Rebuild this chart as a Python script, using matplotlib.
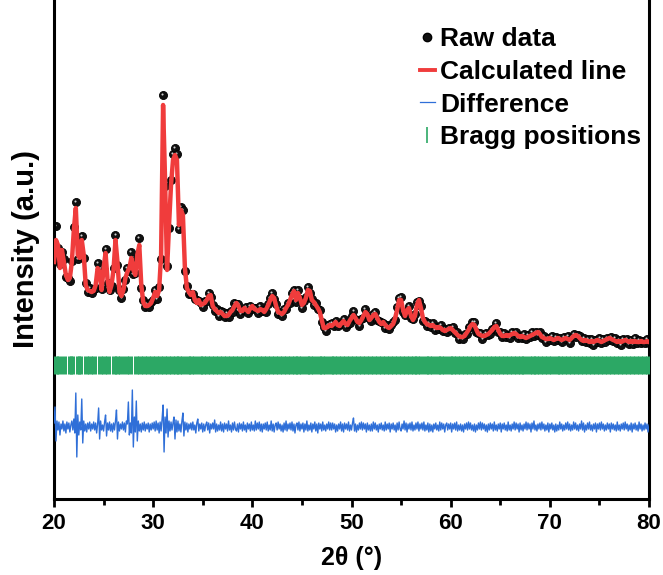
import numpy as np
import matplotlib
matplotlib.use("Agg")
import matplotlib.pyplot as plt
from matplotlib.lines import Line2D
from matplotlib.transforms import offset_copy

# profile grid (degrees): calc / obs every 0.2, difference every 0.1
two_theta_start = 20.0
profile_step = 0.2
diff_step = 0.1

# Calculated profile, one row per degree (20.0, 20.2, ... 20.8)
calc = [
    238, 260, 255, 232, 250,
    238, 225, 220, 222, 238,
    270, 292, 245, 242, 260,
    245, 215, 210, 209, 208,
    209, 215, 232, 228, 210,
    232, 247, 220, 208, 215,
    230, 260, 238, 208, 204,
    210, 222, 228, 232, 242,
    230, 225, 245, 255, 215,
    198, 194, 194, 195, 197,
    202, 208, 204, 210, 245,
    395, 320, 230, 275, 315,
    340, 345, 340, 275, 290,
    285, 232, 212, 208, 205,
    208, 200, 197, 200, 195,
    196, 197, 200, 204, 205,
    194, 191, 189, 187, 188,
    186, 184, 184, 185, 188,
    190, 194, 197, 194, 189,
    189, 192, 190, 188, 192,
    194, 191, 190, 189, 191,
    190, 188, 191, 195, 200,
    204, 202, 194, 188, 187,
    186, 188, 192, 195, 200,
    205, 209, 200, 207, 202,
    195, 197, 202, 210, 209,
    200, 198, 195, 192, 188,
    180, 172, 172, 173, 175,
    174, 176, 178, 175, 174,
    177, 179, 176, 175, 179,
    182, 185, 182, 178, 177,
    180, 184, 188, 186, 180,
    182, 185, 186, 182, 178,
    176, 178, 175, 173, 172,
    174, 176, 182, 190, 200,
    200, 190, 184, 190, 192,
    184, 180, 184, 195, 200,
    192, 182, 178, 176, 175,
    174, 175, 173, 172, 173,
    172, 170, 169, 170, 171,
    172, 170, 168, 166, 164,
    163, 163, 164, 167, 170,
    174, 176, 175, 170, 166,
    165, 164, 164, 165, 166,
    168, 170, 173, 174, 170,
    166, 164, 164, 165, 164,
    165, 166, 167, 166, 164,
    163, 164, 163, 162, 163,
    164, 165, 166, 167, 168,
    166, 163, 162, 161, 161,
    162, 161, 160, 161, 162,
    161, 160, 161, 162, 161,
    160, 162, 164, 165, 164,
    162, 160, 159, 160, 159,
    158, 159, 158, 159, 160,
    159, 158, 159, 160, 161,
    162, 161, 160, 159, 158,
    159, 158, 159, 160, 159,
    158, 159, 158, 159, 158,
    158, 159, 158, 158, 159,
    158,
]

# Raw data minus calculated line, same 0.2 grid
obs_dev = [
    2, 14, -3, 4, -2,
    3, -2, 2, -3, 1,
    3, 6, -4, 2, 4,
    -3, 2, -2, 3, -1,
    2, -3, 5, -2, 1,
    -2, 4, -3, 2, -1,
    2, 5, -3, 2, -2,
    1, -2, 4, -3, 6,
    -4, 2, -3, 7, -3,
    2, -1, 2, -2, 1,
    -2, 2, -3, 3, -4,
    10, -6, 4, -3, 5,
    6, 7, 6, -4, 3,
    5, -3, 2, -2, 1,
    -2, 1, 3, -1, 2,
    -3, 2, -1, 3, -2,
    1, -2, 2, -3, 1,
    2, -1, 3, -2, 1,
    -2, 3, -1, 2, -3,
    1, -2, 3, -1, 2,
    -3, 1, 2, -2, 3,
    -1, 2, -3, 1, 2,
    3, -1, 2, -2, 1,
    -2, 3, -1, 2, -3,
    2, 1, -2, 3, -1,
    -3, 2, 1, 3, -2,
    1, -3, 2, -1, 2,
    -2, 1, -3, 2, 1,
    3, -2, 1, -1, 2,
    -1, 2, -3, 1, -2,
    2, 4, -1, 2, -3,
    1, -2, 3, -1, 2,
    -3, 1, 2, -2, 1,
    2, -1, -3, 2, -1,
    1, 2, -2, 3, 2,
    3, -2, 1, -1, 2,
    -2, 1, 2, 3, -1,
    2, -3, 1, -2, 2,
    -1, 2, -3, 1, -2,
    3, -1, 2, -2, 1,
    -2, 3, -1, 2, -3,
    1, -2, 2, -1, 3,
    -1, 2, 3, -2, 1,
    2, -3, 1, 2, -1,
    -2, 1, -1, 3, -2,
    2, -1, 3, -2, 1,
    -3, 2, -1, 2, -2,
    1, -2, 3, -1, 2,
    -1, 3, -2, 1, -3,
    2, -1, 2, -3, 1,
    -2, 3, -1, 2, -2,
    1, -2, 2, -1, 3,
    -3, 1, 2, -2, 1,
    2, -1, 3, -2, 2,
    -1, 2, -3, 1, -2,
    3, -1, 2, -2, 1,
    -2, 2, -1, 3, -1,
    1, -3, 2, -1, 2,
    -2, 1, -2, 3, -1,
    2, -2, 1, -1, 2,
    -1,
]

# Difference curve, one row per degree (20.0 ... 20.9)
diff = [
    4, 20, -14, 6, -3, 5, -8, 3, -2, 6,
    -4, 3, -6, 5, -2, 4, -5, 2, 6, -3,
    8, -6, 34, -30, 12, -8, 5, -3, 28, -16,
    6, -4, 3, -5, 4, -2, 5, -4, 3, -2,
    5, -3, 4, -6, 3, 19, -12, 6, -3, 2,
    -4, 5, 12, -9, 4, -3, 5, -4, 3, -5,
    4, -3, 6, 17, -12, 5, -4, 3, -2, 5,
    -3, 4, -5, 6, 3, 25, -8, 4, -6, 37,
    -20, 10, -5, 26, -14, 6, -4, 3, -5, 4,
    -3, 5, -4, 3, -2, 4, -5, 3, -3, 4,
    -2, 5, -4, 6, -3, 4, -6, 5, -4, 8,
    22, -25, 10, -6, 18, -10, 6, -4, 5, -3,
    4, 10, -12, 7, -5, 6, -4, 3, -5, 6,
    14, -9, 5, -3, 4, -5, 3, -2, 4, -3,
    5, -3, 2, -6, 4, 8, -4, 3, -2, 4,
    -5, 3, -4, 2, 5, -3, 4, -6, 3, -2,
    4, -2, 7, -5, 3, -4, 2, -3, 5, -4,
    3, -5, 4, -2, 3, -4, 6, -3, 2, -5,
    4, -3, 5, -2, -4, 3, -5, 4, -2, 3,
    -4, 5, -3, 2, -5, 4, -2, 3, -4, 5,
    -3, 2, -4, 6, -3, 4, -2, 5, -4, 3,
    -5, 3, -2, 4, -3, 5, -4, 2, -3, 6,
    -4, 3, -5, 2, 4, -3, 5, -2, 3, -4,
    2, -5, 4, -3, 6, -4, 3, -2, 4, -3,
    5, -4, 3, -6, 2, 4, -3, 5, -4, 3,
    -2, 4, -5, 3, -3, 6, -4, 2, -3, 4,
    -5, 3, -2, 5, -4, 3, -6, 4, -2, 3,
    -4, 5, -3, 2, -4, 3, -2, 5, -3, 4,
    -3, 4, -2, 3, -5, 2, -4, 3, -2, 5,
    -4, 3, -5, 4, -2, 3, -3, 5, -4, 2,
    -3, 4, 9, -4, 3, -5, 2, -3, 4, -2,
    5, -3, 4, -2, 3, -5, 4, -3, 2, -4,
    3, -4, 5, -2, 4, -3, 2, -5, 3, -2,
    4, -3, 2, -4, 5, -3, 3, -2, 4, -5,
    3, -2, 4, -3, 2, -5, 4, -3, 5, -2,
    -4, 3, -2, 6, -3, 4, -5, 3, -2, 4,
    -3, 5, -4, 2, -3, 4, -2, 5, -4, 3,
    -2, 4, -3, 5, -4, 2, -3, 4, -5, 3,
    -4, 2, -5, 3, -2, 4, -3, 2, -4, 5,
    -3, 4, -2, 3, -5, 2, 4, -3, 3, -2,
    4, -5, 3, -2, 4, -3, 5, -4, 2, -3,
    3, -4, 2, -5, 3, -2, 4, -3, 5, -2,
    4, -3, 2, -4, 3, -5, 2, -3, 4, -2,
    5, -3, 4, -2, 3, -4, 2, -5, 3, -3,
    4, -2, 3, -4, 5, -3, 2, -4, 3, -2,
    4, -5, 3, -2, 4, -3, 2, -4, 5, -3,
    2, -4, 3, -2, 5, -3, 4, -2, 3, -5,
    4, -3, 2, -4, 3, -2, 5, -3, 4, -2,
    3, -5, 4, -2, 6, -3, 2, -4, 3, -2,
    4, -3, 5, -2, 3, -4, 2, -3, 4, -5,
    3, -2, 4, -3, 2, -5, 3, -4, 2, -3,
    5, -2, 3, -4, 2, -3, 4, -2, 5, -3,
    3, -4, 2, -3, 5, -2, 4, -3, 2, -4,
    3, -2, 6, -3, 4, -5, 2, -3, 4, -2,
    5, -3, 2, -4, 3, -2, 4, -5, 3, -2,
    4, -3, 5, -2, 3, -4, 2, -3, 4, -2,
    3, -5, 4, -2, 3, -3, 2, -4, 5, -3,
    2, -4, 3, -2, 4, -3, 5, -2, 3, -4,
    2, -3, 4, -5, 3, -2, 4, -3, 2, -4,
    5, -2, 3, -4, 2, -3, 4, -2, 3, -5,
    2,
]

bragg_positions = [
    20.2, 20.55, 21.0, 21.6, 21.8, 22.4, 22.6, 23.2, 23.6, 24.0,
    24.6, 25.0, 25.4, 26.0, 26.4, 26.8, 27.3, 27.7,
    28.30, 28.66, 29.05, 29.48, 29.87, 30.25, 30.71, 31.08, 31.46, 31.90,
    32.28, 32.64, 33.05, 33.47, 33.85, 34.24, 34.69, 35.06, 35.44, 35.88,
    36.27, 36.63, 37.04, 37.46, 37.83, 38.25, 38.68, 39.07, 39.45, 39.89,
    40.26, 40.65, 41.07, 41.48, 41.86, 42.24, 42.69, 43.06, 43.45, 43.88,
    44.27, 44.64, 45.05, 45.47, 45.84, 46.26, 46.68, 47.07, 47.44, 47.89,
    48.27, 48.63, 49.06, 49.46, 49.85, 50.24, 50.69, 51.06, 51.45, 51.88,
    52.26, 52.65, 53.04, 53.48, 53.85, 54.25, 54.68, 55.07, 55.46, 55.87,
    56.28, 56.64, 57.05, 57.47, 57.84, 58.26, 58.69, 59.06, 59.44, 59.89,
    60.27, 60.63, 61.05, 61.46, 61.85, 62.24, 62.68, 63.07, 63.45, 63.88,
    64.26, 64.65, 65.04, 65.47, 65.86, 66.25, 66.69, 67.06, 67.44, 67.87,
    68.28, 68.64, 69.05, 69.46, 69.84, 70.26, 70.68, 71.07, 71.45, 71.88,
    72.27, 72.63, 73.04, 73.48, 73.85, 74.24, 74.69, 75.06, 75.44, 75.89,
    76.26, 76.65, 77.05, 77.46, 77.84, 78.27, 78.68, 79.06, 79.45, 79.85,
]

bragg_level = 135     # where the tick row sits on the intensity axis
diff_offset = 73      # baseline of the difference curve
x_ticks = [20, 30, 40, 50, 60, 70, 80]
x_minor = [25, 35, 45, 55, 65, 75]

calc = np.array(calc, dtype=float)
obs = calc + np.array(obs_dev, dtype=float)
diff = np.array(diff, dtype=float)
two_theta = two_theta_start + profile_step * np.arange(len(calc))
two_theta_diff = two_theta_start + diff_step * np.arange(len(diff))

plt.rcParams['font.family'] = ['Liberation Sans', 'DejaVu Sans']
plt.rcParams['font.weight'] = 'bold'

fig = plt.figure(figsize=(6.63, 5.75), dpi=100)
ax = fig.add_axes([54 / 663, 76 / 575, 595 / 663, 499 / 575])

# raw data as shaded black beads
ax.plot(two_theta, obs, 'o', ms=5.8, color='#111111', mec='black', mew=0.6, zorder=2)
hl = offset_copy(ax.transData, fig=fig, x=-0.9, y=0.9, units='dots')
ax.plot(two_theta, obs, 'o', ms=1.5, color='#d0d0d0', mew=0, transform=hl, zorder=2.1)

ax.plot(two_theta, calc, color='#f03c3c', lw=3.2, zorder=3)
ax.plot(two_theta_diff, diff + diff_offset, color='#2f6fd8', lw=1.0, zorder=3)
ax.plot(bragg_positions, [bragg_level] * len(bragg_positions), '|',
        ms=13, mew=3.6, color='#2ca865', zorder=3)

ax.set_xlim(20, 80)
ax.set_ylim(1, 500)
ax.set_xticks(x_ticks)
ax.set_xticks(x_minor, minor=True)
ax.set_yticks([])
ax.tick_params(axis='x', which='major', direction='out', length=6, width=2, labelsize=16, pad=4)
ax.tick_params(axis='x', which='minor', direction='out', length=4, width=2)
for lab in ax.get_xticklabels():
    lab.set_fontweight('bold')
for side in ['left', 'right', 'bottom']:
    ax.spines[side].set_linewidth(2.2)
ax.spines['top'].set_visible(False)

ax.set_xlabel('2θ (°)', fontsize=18, fontweight='bold', labelpad=9)
ax.set_ylabel('Intensity (a.u.)', fontsize=21, fontweight='bold', labelpad=10)

handles = [
    Line2D([], [], marker='o', ls='none', ms=6, color='#111111', mec='black'),
    Line2D([], [], color='#f03c3c', lw=2.8),
    Line2D([], [], color='#2f6fd8', lw=0.9),
    Line2D([], [], marker='|', ls='none', ms=12, mew=1.2, color='#2ca865'),
]
labels = ['Raw data', 'Calculated line', 'Difference', 'Bragg positions']
fig.legend(handles, labels, loc='upper left', bbox_to_anchor=(407 / 663, 1 - 14 / 575),
           frameon=False, handlelength=0.55, handletextpad=0.2,
           borderpad=0, labelspacing=0.33, prop={'weight': 'bold', 'size': 19})

fig.savefig('out.png', dpi=100)
